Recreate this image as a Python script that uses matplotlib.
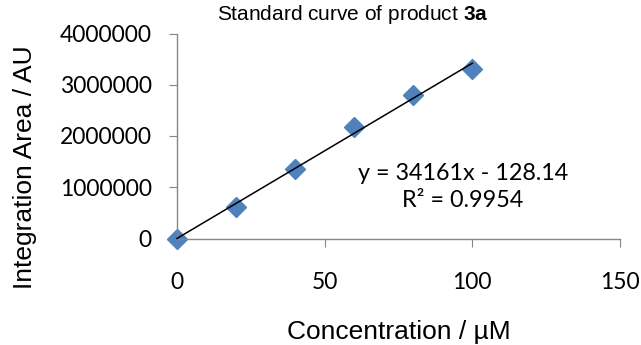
import numpy as np
import matplotlib
matplotlib.use("Agg")
import matplotlib.pyplot as plt

plt.rcParams["mathtext.fontset"] = "custom"
plt.rcParams["mathtext.rm"] = "Liberation Sans"
plt.rcParams["mathtext.bf"] = "Liberation Sans:bold"

# data
conc = [0, 20, 40, 60, 80, 100]
area = [0, 615000, 1360000, 2175000, 2805000, 3310000]
x_ticks = [0, 50, 100, 150]
y_ticks = [0, 1000000, 2000000, 3000000, 4000000]
eq_text = "y = 34161x - 128.14\nR² = 0.9954"

tick_font = "Lato"
label_font = "Liberation Sans"

fig = plt.figure(figsize=(6.41, 3.45), dpi=100)
ax = fig.add_axes([177 / 641, 106.5 / 345, 443 / 641, 205 / 345])

ax.plot(conc, area, linestyle="none", marker="D", markersize=10.3,
        color="#4F81BD", clip_on=False, zorder=2)

# linear trendline
k, b = np.polyfit(conc, area, 1)
xl = np.array([conc[0], conc[-1]])
ax.plot(xl, k * xl + b, color="black", lw=1.1, zorder=3, clip_on=False)

ax.set_xlim(0, 150)
ax.set_ylim(0, 4000000)
ax.set_xticks(x_ticks)
ax.set_yticks(y_ticks)
ax.set_xticklabels([str(v) for v in x_ticks], fontfamily=tick_font, fontsize=16.5)
ax.set_yticklabels([str(v) for v in y_ticks], fontfamily=tick_font, fontsize=16.5)

for s in ["top", "right"]:
    ax.spines[s].set_visible(False)
for s in ["left", "bottom"]:
    ax.spines[s].set_color("#868686")
    ax.spines[s].set_linewidth(1.0)

ax.tick_params(axis="x", direction="out", length=6, color="#868686", pad=18)
ax.tick_params(axis="y", direction="out", length=6, color="#868686", pad=12)

ax.set_xlabel("Concentration / µM", fontfamily=label_font, fontsize=19, labelpad=19.5)
ax.set_ylabel("Integration Area / AU", fontfamily=label_font, fontsize=19)
ax.yaxis.set_label_coords(-0.315, 0.35)

ax.text(463 / 641, 1 - 187 / 345, eq_text, transform=fig.transFigure,
        ha="center", va="center", fontfamily=tick_font, fontsize=16.8,
        linespacing=1.3)

fig.text(353 / 641, 1 - 15 / 345, r"Standard curve of product $\mathbf{3a}$",
         ha="center", va="center", fontfamily=label_font, fontsize=15)

fig.savefig("out.png", dpi=100)
plt.close(fig)
